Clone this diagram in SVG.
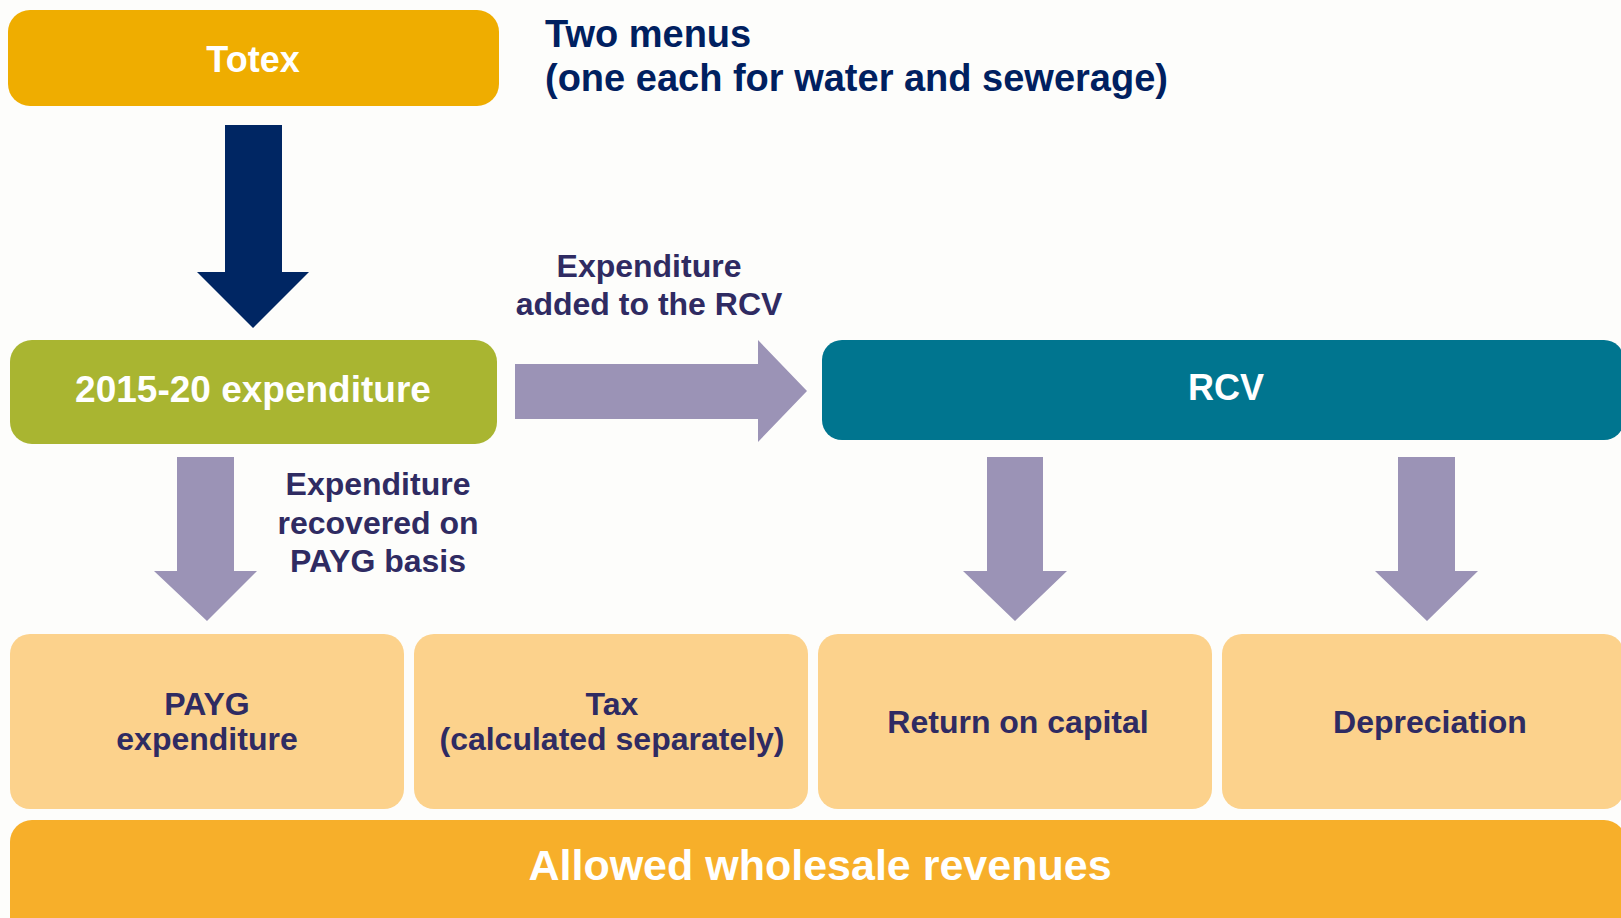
<svg xmlns="http://www.w3.org/2000/svg" width="1621" height="918" viewBox="0 0 1621 918">
  <style>
    text { font-family: "Liberation Sans", Arial, sans-serif; font-weight: bold; text-anchor: middle; }
    .white { fill: #FFFFFF; }
    .ink { fill: #2F2B62; }
    .title { fill: #002060; font-size: 38px; text-anchor: start; }
    .lbl { font-size: 32px; }
    .big { font-size: 36px; }
    .part { fill: #FCD28C; }
    .flow { fill: #9B93B6; }
  </style>
  <rect x="0" y="0" width="1621" height="918" fill="#FDFDFB"/>

  <!-- heading -->
  <g id="heading">
    <text class="title" x="545" y="47">Two menus</text>
    <text class="title" x="545" y="91" font-size="38.3">(one each for water and sewerage)</text>
  </g>

  <!-- top-level nodes -->
  <g id="totex">
    <rect x="8" y="10" width="491" height="96" rx="22" fill="#EFAD00"/>
    <text class="white big" x="253" y="72">Totex</text>
  </g>
  <g id="expenditure">
    <rect x="10" y="340" width="487" height="104" rx="22" fill="#A9B531"/>
    <text class="white" x="253" y="402" font-size="37">2015-20 expenditure</text>
  </g>
  <g id="rcv">
    <rect x="822" y="340" width="802" height="100" rx="20" fill="#00758F"/>
    <text class="white big" x="1226" y="400">RCV</text>
  </g>

  <!-- revenue building blocks -->
  <g id="payg">
    <rect class="part" x="10" y="634" width="394" height="175" rx="20"/>
    <text class="ink lbl" x="207" y="715">PAYG</text>
    <text class="ink lbl" x="207" y="750">expenditure</text>
  </g>
  <g id="tax">
    <rect class="part" x="414" y="634" width="394" height="175" rx="20"/>
    <text class="ink lbl" x="612" y="715">Tax</text>
    <text class="ink lbl" x="612" y="750">(calculated separately)</text>
  </g>
  <g id="return">
    <rect class="part" x="818" y="634" width="394" height="175" rx="20"/>
    <text class="ink lbl" x="1018" y="733">Return on capital</text>
  </g>
  <g id="depreciation">
    <rect class="part" x="1222" y="634" width="402" height="175" rx="20"/>
    <text class="ink lbl" x="1430" y="733">Depreciation</text>
  </g>
  <g id="revenues">
    <rect x="10" y="820" width="1616" height="120" rx="22" fill="#F7AF2A"/>
    <text class="white" x="820" y="880" font-size="43">Allowed wholesale revenues</text>
  </g>

  <!-- connectors: block arrows -->
  <g id="connectors">
    <polygon fill="#002663" points="225,125 282,125 282,272 309,272 253,328 197,272 225,272"/>
    <polygon class="flow" points="515,364 758,364 758,340 807,391 758,442 758,419 515,419"/>
    <polygon class="flow" points="177,457 234,457 234,571 257,571 207,621 154,571 177,571"/>
    <polygon class="flow" points="987,457 1043,457 1043,571 1067,571 1015,621 963,571 987,571"/>
    <polygon class="flow" points="1398,457 1455,457 1455,571 1478,571 1427,621 1375,571 1398,571"/>
  </g>

  <!-- connector labels -->
  <g id="labels">
    <text class="ink lbl" x="649" y="277">Expenditure</text>
    <text class="ink lbl" x="649" y="315">added to the RCV</text>
    <text class="ink lbl" x="378" y="495">Expenditure</text>
    <text class="ink lbl" x="378" y="534">recovered on</text>
    <text class="ink lbl" x="378" y="572">PAYG basis</text>
  </g>
</svg>
